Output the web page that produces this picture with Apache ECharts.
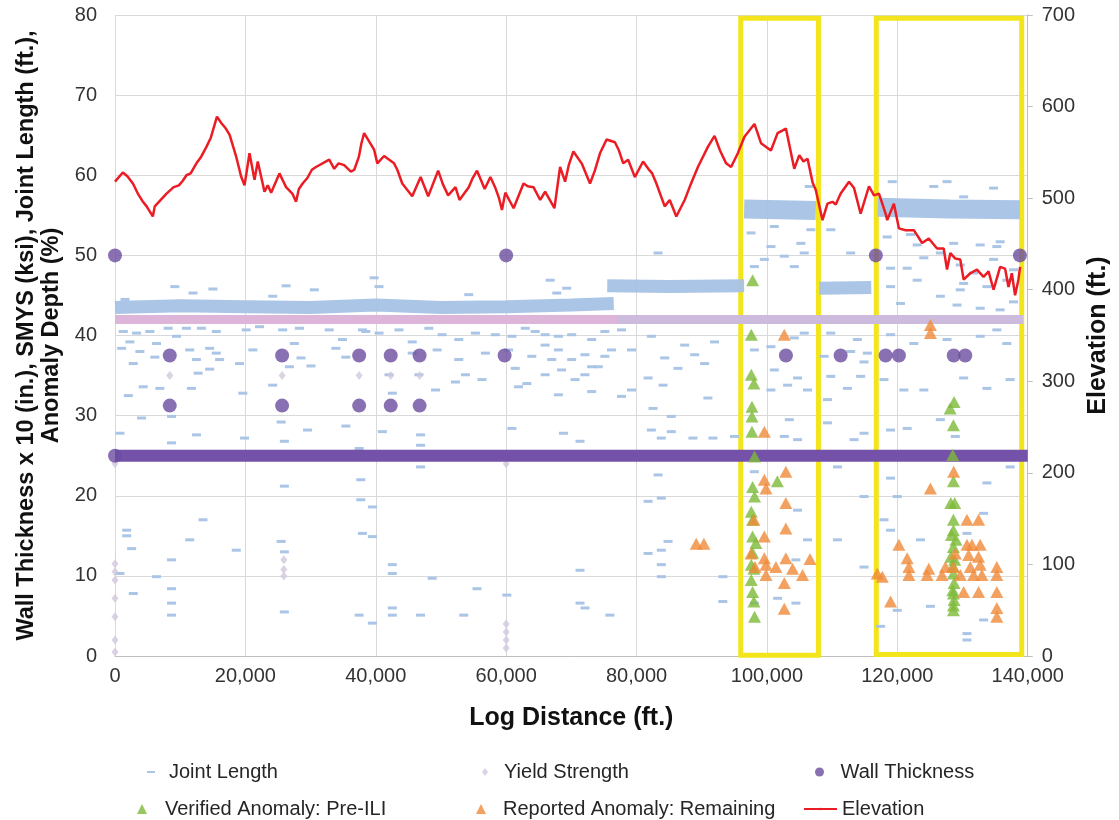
<!DOCTYPE html>
<html>
<head>
<meta charset="utf-8">
<script src="https://cdn.jsdelivr.net/npm/echarts@6/dist/echarts.min.js"></script>
<style>
html,body{margin:0;padding:0;background:#fff;}
#chart{width:1119px;height:820px;}
</style>
</head>
<body>
<div id="chart"></div>
<script>
// ---------- DATA ----------
const xTicks = [0, 20000, 40000, 60000, 80000, 100000, 120000, 140000];

// Elevation (ft.) along log distance (ft.)
const elevation = [[0,518],[1200,528],[1900,524],[2750,516],[3500,505],[4200,497],[4850,491],[5800,480],[6100,491],[7900,505],[9000,512],[9800,514],[10400,519],[10960,525],[11600,527],[12490,538],[13200,545],[14020,556],[14700,566],[15640,589],[16300,582],[17000,576],[17580,569],[18600,545],[19370,523],[19870,514],[20630,549],[21400,520],[21900,540],[22930,507],[23430,514],[23950,506],[25220,527],[25700,520],[26240,512],[27200,505],[27770,496],[28200,510],[28780,516],[29500,522],[30200,531],[30830,534],[32860,542],[33630,532],[34300,538],[35150,536],[36180,529],[36700,531],[37400,545],[37800,560],[38210,571],[39740,553],[40240,538],[41270,546],[42800,538],[43300,531],[44060,516],[45590,502],[46880,523],[48040,502],[49570,530],[50300,515],[51100,503],[52230,512],[52840,498],[54260,512],[54800,521],[55530,530],[56000,522],[56700,510],[57580,523],[58300,512],[58900,500],[59350,487],[59870,506],[61140,489],[62660,516],[63300,513],[64190,512],[65220,498],[65980,507],[67400,489],[68270,534],[69040,518],[69600,536],[70310,551],[71580,538],[72860,516],[73600,530],[74390,549],[75400,564],[76680,561],[77300,552],[77950,538],[78710,542],[79740,523],[81000,540],[81800,532],[82400,527],[83040,516],[84320,491],[85090,498],[86100,480],[87380,498],[88300,515],[89410,534],[90940,556],[91960,568],[92800,552],[93740,538],[94500,534],[95530,549],[96550,567],[98080,581],[99090,560],[100610,552],[101630,571],[102910,576],[104190,532],[104960,547],[105600,540],[106230,543],[107000,517],[107490,509],[108520,476],[109280,494],[110050,496],[110550,493],[111310,505],[112590,518],[113360,511],[114370,483],[115650,513],[116420,503],[117180,505],[118200,483],[118450,476],[119470,494],[120240,467],[121260,465],[122530,465],[123800,451],[124820,456],[126090,445],[127110,445],[127620,422],[128130,440],[128890,434],[129650,433],[130170,411],[131190,418],[132210,422],[133230,414],[133990,420],[134760,400],[135770,425],[136530,423],[137050,403],[137560,418],[138060,394],[138570,411],[138830,425]];

// Joint length (ft.) - individual joints
const jointLenWest = [[9170,46.1],[11970,45.3],[15020,45.8],[1530,44.5],[26240,46.2],[30570,45.7],[24190,44.9],
[1270,40.5],[3310,40.3],[5350,40.5],[8150,40.9],[9430,39.9],[10960,40.9],[13250,40.9],[15540,40.5],[2290,39.2],[6370,39.0],[1020,38.4],[3820,38.0],[11460,38.2],[14520,38.4],[15540,37.8],[16050,37.0],[12490,37.0],[6110,37.3],[2800,36.5],[14520,35.8],[12740,35.3],[4330,33.6],[6880,33.4],[11720,33.4],[2040,32.5],[20120,40.7],[22160,41.1],[25720,40.7],[28280,40.9],[21140,38.2],[27510,39.0],[26750,36.1],[28530,37.2],[19100,36.5],[24190,33.8],[19610,32.8],[30060,36.2],[32860,40.7],[34890,39.5],[37950,40.7],[33880,38.4],[35410,37.3],
[39740,47.2],[40500,46.1],[54260,45.1],[66740,46.9],[67760,45.3],[69290,45.9],
[38470,40.5],[40500,40.3],[43560,40.7],[45590,39.2],[48140,40.9],[50180,40.1],[52730,39.5],[55280,40.3],[58340,40.1],[60880,39.9],[62930,40.9],[64450,40.5],[65980,40.1],[68010,39.9],[70050,40.1],[73110,39.5],[75140,40.5],
[45590,37.8],[49410,38.2],[52730,37.0],[53750,35.1],[56810,37.8],[60370,38.2],[61390,35.9],[63930,37.4],[65980,38.8],[66990,37.0],[68010,38.2],[70050,37.0],[72080,37.6],[73110,36.1],[75140,37.4],[76160,38.2],
[42030,35.1],[46620,35.1],[49170,33.2],[52220,34.2],[56290,34.5],[61900,33.6],[63170,34.0],[65980,35.1],[68500,35.7],[70560,34.5],[72080,35.1],[74130,36.1],[42540,32.8],[68010,32.6],[73110,33.0],
[760,27.8],[4080,29.7],[8670,29.9],[12490,27.6],[19870,27.2],[25480,29.2],[29540,28.2],[35410,28.7],[41010,28.0],[46870,27.6],[60880,28.4],[68780,27.8],[71330,26.8],[25980,26.8],[8670,26.6],[37450,25.9],[46870,26.3],[46870,23.6],[25980,21.2],[37700,22.0],[37700,19.5],[39480,18.6],[1790,15.7],[1790,15.0],[13500,17.0],[11460,14.5],[18600,13.2],[25480,14.3],[37950,15.3],[39480,14.9],[2550,13.4],[8670,12.0],[25980,13.0],[42540,11.4],[42540,10.3],[48650,9.7],[55530,8.4],[71330,10.7],[72090,6.0],[75910,5.1],[8670,8.4],[8670,6.6],[8670,5.1],[2800,7.8],[25980,5.5],[37450,5.1],[42540,6.0],[42540,5.1],[46870,5.1],[53490,5.1],[60110,7.6],[71330,6.6],[39480,4.1],[6370,9.9],[760,10.3]];

const jointLenMid = [[77690,40.7],[82270,39.9],[87380,38.8],[91960,39.2],[79220,38.2],[84320,37.2],[88910,37.6],[81770,34.7],[86350,35.9],[90440,36.5],[84060,33.8],[90940,32.2],[77690,32.4],[79220,33.2],[82530,30.9],[85330,29.9],[91710,27.2],[88650,27.2],[83800,27.2],[82270,28.2],[85330,28.0],[95020,27.4],[83300,22.6],[81770,19.3],[83800,19.7],[84830,14.3],[83800,13.2],[81770,12.8],[83800,11.4],[83800,9.9],[93230,9.9],[93230,6.8],[106220,14.5],[83300,50.3],
[98070,38.2],[100610,38.6],[104190,39.7],[105720,40.3],[101130,35.7],[104700,34.7],[106220,33.2],[100610,33.2],[103170,33.8],[103430,29.5],[104700,27.0],[102660,27.4],[98070,23.0],[104700,18.2],[104440,12.0],[104440,6.6],[101640,7.2],[98070,6.6],
[97560,52.8],[100610,51.1],[102660,49.9],[105200,51.5],[106730,53.2],[99600,49.5],[104190,48.6],[98070,48.6],[101130,53.6],[105720,50.3],[106480,58.6],
[109790,40.3],[113870,39.5],[108780,37.4],[112840,38.0],[114890,36.7],[109790,34.9],[114370,34.9],[112340,33.4],[109280,32.0],[109280,29.1],[113360,27.0],[114890,27.8],[110810,23.6],[114890,19.9],[110810,14.5],[114890,11.1],[115390,37.8],[109790,53.2],[112840,50.3]];

const jointLenEast = [[118960,40.1],[122530,39.0],[127620,39.5],[132710,39.9],[135260,40.7],[136790,39.0],[117950,34.5],[121000,33.2],[124060,33.2],[130170,34.7],[133740,33.4],[137300,34.5],[118960,28.2],[121510,28.4],[126600,29.5],[128890,27.4],[133740,21.6],[137300,23.6],[118960,22.2],[119980,19.9],[117950,17.0],[118960,15.7],[123550,14.5],[133230,17.8],[130680,15.3],[125070,6.2],[119980,5.7],[130680,2.8],[130680,2.0],[117430,3.7],[133230,4.5],
[118450,52.3],[122010,52.6],[123040,51.3],[121510,48.4],[124060,49.7],[128640,51.5],[132710,51.3],[135770,51.7],[129650,48.8],[131700,47.8],[134760,49.5],[137820,48.2],[118960,46.1],[123040,46.9],[126600,44.9],[130170,46.5],[133740,46.1],[136790,46.9],[120480,44.0],[129150,43.8],[132710,43.4],[135770,43.2],[137820,44.2],[129650,45.7],[118960,48.4],[135260,51.1],[126600,50.3],[119220,59.2],[127630,59.2],[134760,58.4],[125590,58.6],[130170,57.3]];

// Dense runs of joint lengths (continuous bands of ~43, ~46 and ~56 ft. joints)
const jointBand43 = [[0,43.5],[10000,43.7],[20000,43.6],[30000,43.5],[40000,43.8],[50000,43.5],[60000,43.6],[70000,43.8],[76500,44.0]];
const jointBand46 = [[75500,46.2],[85000,46.1],[96500,46.2],null,[108000,45.9],[116000,46.0]];
const jointBand56 = [[96500,55.8],[107500,55.6],null,[117000,56.0],[128000,55.8],[138800,55.7]];

// Yield strength (SMYS, ksi)
const yieldBandWest = [[0,42],[77000,42]];
const yieldBandEast = [[77000,42],[139300,42]];
const yieldPts = [[8400,35],[25630,35],[37450,35],[42290,35],[46720,35],[0,24],[60000,24],[0,11.5],[0,10.5],[0,9.5],[0,7.2],[0,4.9],[0,2],[0,0.5],[60000,4],[60000,3],[60000,2],[60000,1],[25900,12],[25900,10.8],[25900,10]];

// Wall thickness x 10 (in.)
const wallBand = [[0,25],[140000,25]];
const wallPts = [[0,25],[0,50],[60000,50],[116700,50],[138800,50],[8400,37.5],[25630,37.5],[37450,37.5],[42290,37.5],[46720,37.5],[59760,37.5],[102910,37.5],[111300,37.5],[118200,37.5],[120240,37.5],[128650,37.5],[130420,37.5],[8400,31.25],[25630,31.25],[37450,31.25],[42290,31.25],[46720,31.25]];

// Verified anomalies: Pre-ILI depth (%)
const verifiedPreILI = [[97800,46.9],[97600,40.1],[97600,35.1],[98000,34.0],[97700,31.1],[97700,29.9],[97700,28.0],[98100,24.9],[97800,21.1],[98100,19.9],[101600,21.8],[97600,18.0],[97800,17.0],[97800,14.9],[98300,14.1],[97800,12.9],[97600,11.4],[98000,10.9],[97600,9.5],[97800,8.0],[98000,6.8],[98100,4.9],
[128700,31.7],[128100,30.9],[128600,28.8],[128500,25.1],[128600,21.8],[128200,19.1],[128800,19.1],[128600,17.0],[128600,15.7],[128300,15.1],[129000,14.5],[128600,13.6],[128200,12.4],[128800,12.0],[128500,11.2],[128600,10.3],[128700,9.1],[128500,8.2],[128600,7.8],[128700,7.0],[128600,6.3],[128600,5.7]];

// Reported anomalies: remaining depth (%)
const reportedRemaining = [[102660,40.1],[99600,28.0],[102900,23.0],[99600,22.0],[99850,20.9],[102900,19.1],[98000,17.0],[102900,15.9],[99600,14.9],[89150,14.0],[90330,14.0],[97560,12.8],[99600,12.2],[102900,12.2],[106600,12.1],[98170,11.1],[99850,11.4],[101380,11.1],[103930,10.9],[105460,10.1],[99850,10.1],[102660,9.1],[102660,5.9],
[125070,41.3],[125070,40.3],[128640,23.0],[125070,20.9],[130680,17.0],[132460,17.0],[120240,13.9],[130680,13.9],[131440,13.9],[132710,13.9],[128890,12.8],[121510,12.2],[130930,12.6],[132460,12.4],[121770,11.1],[124820,10.9],[127370,11.1],[128640,11.1],[131190,11.1],[132710,11.4],[135260,11.1],[116920,10.3],[117690,9.9],[121770,10.1],[124570,10.1],[126860,10.1],[129660,10.1],[131700,10.1],[132970,10.1],[135260,10.1],[130170,8.0],[132460,8.0],[135260,8.0],[118960,6.8],[135260,6.0],[135260,4.9]];

// Highlighted ranges [startFt, endFt, topValue, bottomValue]
const highlightRanges = [[95980,107900,79.6,0.1],[116770,139080,79.6,0.2]];

// ---------- CHART ----------
const FONT = '"Liberation Sans", Arial, sans-serif';
const C = {
  joint:'#A6C2E5', yieldW:'#DDB5D9', yieldE:'#CDBBDD', yieldPt:'#D2C8DC',
  wall:'#6B4C9F', wallBand:'#7452A9', green:'#7DBA38', orange:'#F08A38',
  elev:'#EC1C24', grid:'#D9D9D9', axis:'#BFBFBF', text:'#333333', box:'#F2E51C'
};
const TRI = 'path://M5,0L10,10L0,10Z';

const chart = echarts.init(document.getElementById('chart'), null, {renderer:'canvas'});

function legendAt(name, left, top, w, h, icon) {
  const d = {name: name};
  if (icon) d.icon = icon;
  return {
    data:[d], left:left, top:top, itemWidth:w, itemHeight:h, padding:0,
    selectedMode:false, textStyle:{fontFamily:FONT, fontSize:20, color:'#262626'}
  };
}

const option = {
  backgroundColor:'#ffffff',
  animation:false,
  textStyle:{fontFamily:FONT},
  grid:{left:115, right:88, top:15, bottom:164, containLabel:false},
  legend:[
    legendAt('Joint Length', 147, 762, 26, 2, 'path://M0,0L8,0L8,2L0,2Z'),
    legendAt('Yield Strength', 482, 762, 28, 8, 'path://M3,0L6,4L3,8L0,4Z'),
    legendAt('Wall Thickness', 815, 762, 32, 9, 'circle'),
    legendAt('Verified Anomaly: Pre-ILI', 137, 799, 36, 10, TRI),
    legendAt('Reported Anomaly: Remaining', 476, 799, 34, 10, TRI),
    legendAt('Elevation', 803, 799, 33, 3)
  ],
  xAxis:{
    type:'value', min:0, max:140000, interval:20000,
    axisLine:{show:true, lineStyle:{color:C.axis, width:1}},
    axisTick:{show:false},
    splitLine:{show:true, lineStyle:{color:C.grid, width:1}},
    axisLabel:{fontSize:20, color:C.text, margin:10, fontFamily:FONT,
      formatter:v=>v.toLocaleString('en-US'), customValues:xTicks},
    name:'Log Distance (ft.)', nameLocation:'middle', nameGap:50,
    nameTextStyle:{fontSize:25, fontWeight:'bold', color:'#111', fontFamily:FONT}
  },
  yAxis:[{
    type:'value', min:0, max:80, interval:10,
    axisLine:{show:false}, axisTick:{show:false},
    splitLine:{show:true, lineStyle:{color:C.grid, width:1}},
    axisLabel:{fontSize:20, color:C.text, margin:18, fontFamily:FONT},
    name:'Wall Thickness x 10 (in.), SMYS (ksi), Joint Length (ft.),\nAnomaly Depth (%)',
    nameLocation:'middle', nameGap:37,
    nameTextStyle:{fontSize:23.5, fontWeight:'bold', color:'#111', lineHeight:25, fontFamily:FONT}
  },{
    type:'value', min:0, max:700, interval:100, position:'right',
    axisLine:{show:true, lineStyle:{color:C.axis, width:1}},
    axisTick:{show:true, length:5, lineStyle:{color:C.axis}},
    splitLine:{show:false},
    axisLabel:{fontSize:20, color:C.text, margin:14, fontFamily:FONT},
    name:'Elevation (ft.)', nameLocation:'middle', nameGap:52, nameRotate:90,
    nameTextStyle:{fontSize:25, fontWeight:'bold', color:'#111', fontFamily:FONT}
  }],
  series:[
    {name:'jointBand43', type:'line', data:jointBand43, symbol:'none', silent:true, z:1,
      lineStyle:{color:C.joint, width:13, opacity:0.95}},
    {name:'jointBand46', type:'line', data:jointBand46, symbol:'none', silent:true, z:1, connectNulls:false,
      lineStyle:{color:C.joint, width:13, opacity:0.95}},
    {name:'jointBand56', type:'line', data:jointBand56, symbol:'none', silent:true, z:1, connectNulls:false,
      lineStyle:{color:C.joint, width:19, opacity:0.95}},
    {name:'Joint Length', type:'scatter', data:jointLenWest.concat(jointLenMid, jointLenEast),
      symbol:'rect', symbolSize:[9,3], z:2, itemStyle:{color:C.joint, opacity:0.95}},
    {name:'yieldBandW', type:'line', data:yieldBandWest, symbol:'none', silent:true, z:2,
      lineStyle:{color:C.yieldW, width:9}},
    {name:'yieldBandE', type:'line', data:yieldBandEast, symbol:'none', silent:true, z:2,
      lineStyle:{color:C.yieldE, width:9}},
    {name:'Yield Strength', type:'scatter', data:yieldPts, symbol:'diamond', symbolSize:[7,9], z:2,
      itemStyle:{color:C.yieldPt}},
    {name:'wallBand', type:'line', data:wallBand, symbol:'none', silent:true, z:3,
      lineStyle:{color:C.wallBand, width:12}},
    {name:'Wall Thickness', type:'scatter', data:wallPts, symbol:'circle', symbolSize:14, z:3,
      itemStyle:{color:C.wall}},
    {name:'Verified Anomaly: Pre-ILI', type:'scatter', data:verifiedPreILI, symbol:TRI, symbolSize:[13,12], z:4,
      itemStyle:{color:C.green}},
    {name:'Reported Anomaly: Remaining', type:'scatter', data:reportedRemaining, symbol:TRI, symbolSize:[13,12], z:5,
      itemStyle:{color:C.orange}},
    {name:'Elevation', type:'line', yAxisIndex:1, data:elevation, symbol:'none', z:6,
      lineStyle:{color:C.elev, width:2.5}, itemStyle:{color:C.elev}},
    {name:'highlight', type:'line', data:[], z:10, silent:true,
      markArea:{silent:true,
        itemStyle:{color:'rgba(0,0,0,0)', borderColor:C.box, borderWidth:5},
        data:highlightRanges.map(r=>[{coord:[r[0],r[2]]},{coord:[r[1],r[3]]}])}}
  ]
};
chart.setOption(option);
</script>
</body>
</html>
